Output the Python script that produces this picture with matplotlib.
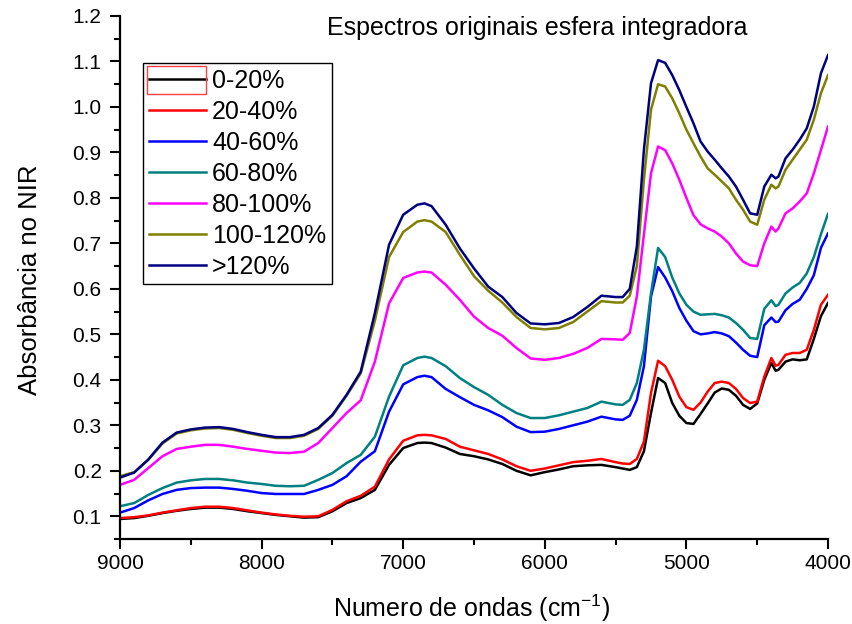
import matplotlib
matplotlib.use('Agg')
import matplotlib.pyplot as plt
from matplotlib.ticker import MultipleLocator, FormatStrFormatter
from matplotlib.patches import Rectangle

# wavenumber grid (cm-1)
wn = [9000, 8900, 8800, 8700, 8600, 8500, 8400, 8300, 8200, 8100,
      8000, 7900, 7800, 7700, 7600, 7500, 7400, 7300, 7200, 7100,
      7000, 6900, 6850, 6800, 6700, 6600, 6500, 6400, 6300, 6200,
      6100, 6000, 5900, 5800, 5700, 5600, 5500, 5450, 5400, 5350,
      5300, 5250, 5200, 5150, 5100, 5050, 5000, 4950, 4900, 4850,
      4800, 4750, 4700, 4650, 4600, 4550, 4500, 4450, 4400, 4370,
      4350, 4300, 4250, 4200, 4150, 4100, 4050, 4000]

s_0_20 = [0.094, 0.096, 0.101, 0.107, 0.112, 0.116, 0.119, 0.119, 0.116, 0.111,
          0.107, 0.103, 0.100, 0.097, 0.098, 0.111, 0.129, 0.140, 0.158, 0.213,
          0.250, 0.261, 0.262, 0.261, 0.251, 0.237, 0.232, 0.225, 0.215, 0.200,
          0.190, 0.197, 0.203, 0.210, 0.212, 0.213, 0.208, 0.205, 0.202, 0.208,
          0.243, 0.327, 0.404, 0.393, 0.349, 0.321, 0.305, 0.303, 0.325, 0.348,
          0.372, 0.381, 0.378, 0.365, 0.345, 0.336, 0.348, 0.400, 0.437, 0.420,
          0.422, 0.440, 0.445, 0.443, 0.445, 0.490, 0.540, 0.569]

s_20_40 = [0.096, 0.098, 0.102, 0.108, 0.113, 0.118, 0.121, 0.121, 0.118, 0.113,
           0.108, 0.104, 0.101, 0.099, 0.100, 0.114, 0.133, 0.145, 0.165, 0.225,
           0.266, 0.278, 0.279, 0.278, 0.270, 0.253, 0.245, 0.237, 0.225, 0.210,
           0.200, 0.205, 0.212, 0.219, 0.222, 0.226, 0.219, 0.216, 0.215, 0.226,
           0.264, 0.371, 0.442, 0.430, 0.400, 0.363, 0.340, 0.334, 0.350, 0.374,
           0.393, 0.396, 0.393, 0.380, 0.360, 0.349, 0.352, 0.407, 0.448, 0.431,
           0.433, 0.455, 0.459, 0.459, 0.466, 0.510, 0.565, 0.587]

s_40_60 = [0.108, 0.118, 0.135, 0.149, 0.158, 0.162, 0.163, 0.163, 0.160, 0.156,
           0.151, 0.149, 0.149, 0.149, 0.158, 0.169, 0.188, 0.220, 0.243, 0.330,
           0.390, 0.406, 0.409, 0.406, 0.380, 0.362, 0.345, 0.333, 0.318, 0.297,
           0.285, 0.286, 0.292, 0.300, 0.308, 0.319, 0.313, 0.312, 0.321, 0.356,
           0.430, 0.583, 0.648, 0.625, 0.595, 0.558, 0.530, 0.507, 0.500, 0.502,
           0.505, 0.502, 0.496, 0.482, 0.466, 0.453, 0.450, 0.520, 0.537, 0.527,
           0.528, 0.553, 0.567, 0.576, 0.600, 0.630, 0.690, 0.722]

s_60_80 = [0.122, 0.129, 0.147, 0.162, 0.174, 0.179, 0.182, 0.182, 0.179, 0.174,
           0.171, 0.167, 0.166, 0.167, 0.180, 0.195, 0.217, 0.235, 0.275, 0.363,
           0.432, 0.448, 0.451, 0.448, 0.430, 0.404, 0.384, 0.367, 0.345, 0.327,
           0.316, 0.316, 0.322, 0.330, 0.338, 0.352, 0.346, 0.345, 0.356, 0.393,
           0.466, 0.590, 0.690, 0.670, 0.625, 0.590, 0.565, 0.550, 0.543, 0.544,
           0.545, 0.542, 0.537, 0.525, 0.510, 0.492, 0.490, 0.556, 0.575, 0.562,
           0.565, 0.590, 0.603, 0.613, 0.634, 0.670, 0.720, 0.765]

s_80_100 = [0.169, 0.180, 0.206, 0.232, 0.248, 0.253, 0.257, 0.257, 0.253, 0.248,
            0.244, 0.240, 0.239, 0.242, 0.261, 0.294, 0.327, 0.355, 0.440, 0.568,
            0.624, 0.636, 0.638, 0.636, 0.609, 0.576, 0.539, 0.514, 0.497, 0.470,
            0.447, 0.444, 0.448, 0.457, 0.470, 0.490, 0.489, 0.488, 0.503, 0.583,
            0.720, 0.854, 0.913, 0.905, 0.876, 0.840, 0.800, 0.762, 0.742, 0.733,
            0.726, 0.715, 0.700, 0.678, 0.660, 0.652, 0.650, 0.700, 0.737, 0.726,
            0.733, 0.766, 0.777, 0.792, 0.810, 0.854, 0.905, 0.957]

s_100_120 = [0.188, 0.197, 0.224, 0.260, 0.282, 0.289, 0.293, 0.294, 0.290, 0.283,
             0.277, 0.272, 0.272, 0.277, 0.292, 0.321, 0.365, 0.414, 0.530, 0.670,
             0.725, 0.748, 0.751, 0.748, 0.725, 0.675, 0.628, 0.596, 0.570, 0.538,
             0.514, 0.511, 0.514, 0.527, 0.550, 0.573, 0.570, 0.570, 0.585, 0.650,
             0.840, 0.994, 1.050, 1.045, 1.019, 0.986, 0.950, 0.920, 0.891, 0.865,
             0.851, 0.836, 0.821, 0.796, 0.774, 0.748, 0.741, 0.796, 0.829, 0.821,
             0.825, 0.862, 0.884, 0.906, 0.928, 0.972, 1.030, 1.070]

s_120 = [0.185, 0.196, 0.225, 0.262, 0.284, 0.291, 0.295, 0.296, 0.292, 0.285,
         0.279, 0.274, 0.274, 0.279, 0.294, 0.323, 0.367, 0.418, 0.547, 0.697,
         0.763, 0.785, 0.788, 0.782, 0.741, 0.689, 0.645, 0.605, 0.582, 0.547,
         0.524, 0.522, 0.525, 0.538, 0.560, 0.585, 0.582, 0.582, 0.600, 0.693,
         0.906, 1.052, 1.103, 1.097, 1.070, 1.037, 1.000, 0.964, 0.924, 0.902,
         0.884, 0.865, 0.847, 0.825, 0.796, 0.766, 0.763, 0.825, 0.851, 0.843,
         0.847, 0.887, 0.906, 0.928, 0.953, 1.001, 1.074, 1.114]

labels = ["0-20%", "20-40%", "40-60%", "60-80%", "80-100%", "100-120%", ">120%"]
colors = ["#000000", "#FF0000", "#0000FF", "#008080", "#FF00FF", "#808000", "#000080"]
series = [s_0_20, s_20_40, s_40_60, s_60_80, s_80_100, s_100_120, s_120]

plt.rcParams['font.family'] = ['Liberation Sans', 'DejaVu Sans']
plt.rcParams['mathtext.fontset'] = 'custom'
plt.rcParams['mathtext.rm'] = 'Liberation Sans'
plt.rcParams['mathtext.it'] = 'Liberation Sans:italic'

fig = plt.figure(figsize=(8.53, 6.24), dpi=100)
ax = fig.add_axes([120/853, 1-539/624, 708/853, 523/624])

for y, lab, c in zip(series, labels, colors):
    ax.plot(wn, y, color=c, lw=1.8, label=lab)

ax.set_xlim(9000, 4000)
ax.set_ylim(0.05, 1.2)
ax.xaxis.set_major_locator(MultipleLocator(1000))
ax.xaxis.set_minor_locator(MultipleLocator(500))
ax.yaxis.set_major_locator(MultipleLocator(0.1))
ax.yaxis.set_minor_locator(MultipleLocator(0.05))
ax.yaxis.set_major_formatter(FormatStrFormatter('%.1f'))

for side in ['top', 'right']:
    ax.spines[side].set_visible(False)
for side in ['left', 'bottom']:
    ax.spines[side].set_linewidth(1.6)

ax.tick_params(which='major', direction='out', length=7.2, width=1.5, labelsize=15)
ax.tick_params(which='minor', direction='out', length=4, width=1.5)
ax.tick_params(axis='x', which='major', pad=3.5)
ax.tick_params(axis='y', which='major', pad=6)

ax.set_xlabel("Numero de ondas (cm$^{-1}$)", fontsize=18)
ax.set_ylabel("Absorbância no NIR", fontsize=18.5)
ax.xaxis.set_label_coords(0.497, -0.103)
ax.yaxis.set_label_coords(-0.11, 0.495)

ax.text(0.589, 0.977, "Espectros originais esfera integradora", transform=ax.transAxes,
        ha='center', va='center', fontsize=18)

leg = ax.legend(loc='upper left', bbox_to_anchor=(0.0325, 0.910), borderaxespad=0,
                fontsize=18, frameon=True, fancybox=False, framealpha=1,
                edgecolor='black', handlelength=2.3, handletextpad=0.24,
                labelspacing=0.28, borderpad=0.22)
leg.get_frame().set_linewidth(1.0)

# red selection box around the first legend handle
fig.add_artist(Rectangle((147/853, 1-94/624), 59/853, 28/624, transform=fig.transFigure,
                         fill=False, edgecolor='#FF4040', lw=1.0))

fig.savefig('out.png', dpi=100)
